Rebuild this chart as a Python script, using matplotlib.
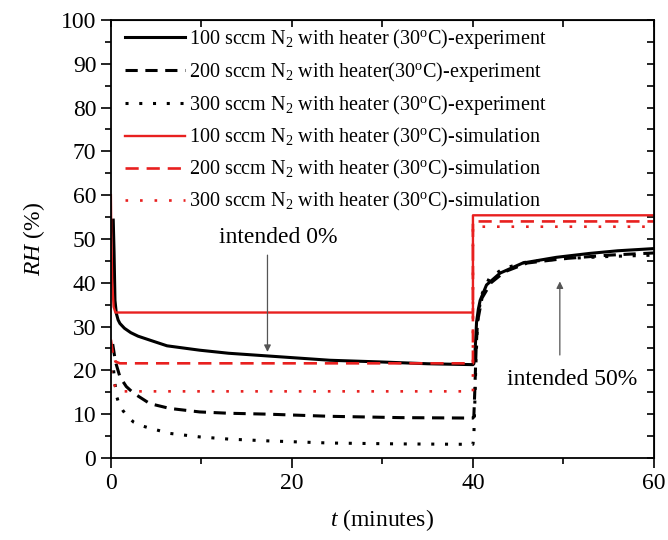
import numpy as np
import matplotlib.pyplot as plt
from matplotlib.ticker import MultipleLocator

plt.rcParams['font.family'] = ['Liberation Serif', 'DejaVu Serif']
plt.rcParams['mathtext.fontset'] = 'custom'
plt.rcParams['mathtext.rm'] = 'Liberation Serif'
plt.rcParams['mathtext.it'] = 'Liberation Serif:italic'

# experiment curves (t in minutes, RH in %)
t_exp100 = [0.26, 0.35, 0.45, 0.6, 0.8, 1.0, 1.5, 2.2, 3.0, 4.3, 6.2, 9.8, 13.0, 17.2, 24.2, 30.0, 35.0, 40.0,
            40.1, 40.2, 40.3, 40.4, 40.6, 40.8, 41.5, 43.0, 45.5, 49.2, 52.9, 56.0, 60.0]
rh_exp100 = [54.3, 47.0, 36.0, 33.0, 31.5, 30.7, 29.6, 28.6, 27.8, 26.9, 25.6, 24.6, 23.9, 23.3, 22.3, 21.9, 21.5, 21.3,
             21.5, 23.0, 27.0, 31.0, 34.0, 36.0, 39.5, 42.2, 44.5, 45.8, 46.7, 47.3, 47.8]

t_exp200 = [0.2, 0.5, 1.0, 1.7, 2.5, 4.3, 6.5, 9.8, 13.0, 17.2, 24.2, 32.0, 40.0,
            40.1, 40.2, 40.35, 40.5, 41.0, 42.0, 43.5, 46.0, 50.0, 55.0, 60.0]
rh_exp200 = [26.0, 22.0, 18.5, 16.3, 14.8, 12.4, 11.3, 10.5, 10.2, 10.0, 9.5, 9.2, 9.1,
             9.5, 15.0, 25.0, 31.0, 36.5, 40.0, 42.5, 44.5, 45.5, 46.3, 46.8]

t_exp300 = [0.3, 0.45, 0.6, 0.9, 1.3, 1.8, 2.5, 3.3, 4.3, 6.5, 9.8, 13.0, 17.2, 24.2, 32.0, 40.0,
            40.1, 40.2, 40.3, 40.5, 40.9, 41.8, 43.3, 46.0, 50.0, 55.0, 60.0]
rh_exp300 = [20.0, 17.0, 14.3, 12.3, 10.9, 9.5, 8.2, 7.4, 6.8, 5.6, 4.8, 4.3, 3.9, 3.4, 3.2, 3.1,
             5.0, 12.0, 20.0, 31.0, 37.0, 41.0, 43.2, 44.8, 45.5, 46.0, 46.3]

# simulation curves
t_sim100 = [0.0, 0.05, 0.15, 0.3, 0.5, 40.0, 40.0, 60.0]
rh_sim100 = [60.0, 50.0, 40.0, 34.5, 33.2, 33.2, 55.4, 55.4]

t_sim200 = [0.0, 0.2, 0.5, 1.0, 40.0, 40.0, 60.0]
rh_sim200 = [27.0, 24.0, 22.0, 21.6, 21.6, 54.0, 54.0]

t_sim300 = [0.0, 0.3, 0.8, 40.0, 40.0, 60.0]
rh_sim300 = [20.0, 17.0, 15.2, 15.2, 52.8, 52.8]

labels = [r'100 sccm N$_2$ with heater (30$^{\rm o}$C)-experiment',
          r'200 sccm N$_2$ with heater(30$^{\rm o}$C)-experiment',
          r'300 sccm N$_2$ with heater (30$^{\rm o}$C)-experiment',
          r'100 sccm N$_2$ with heater (30$^{\rm o}$C)-simulation',
          r'200 sccm N$_2$ with heater (30$^{\rm o}$C)-simulation',
          r'300 sccm N$_2$ with heater (30$^{\rm o}$C)-simulation']

fz = 17
red = '#e8201f'

fig = plt.figure(figsize=(6.68, 5.4), dpi=100)
ax = fig.add_axes([0.166, 0.152, 0.813, 0.811])

ax.plot(t_exp100, rh_exp100, color='k', lw=2.2, linestyle='-', label=labels[0])
ax.plot(t_exp200, rh_exp200, color='k', lw=2.2, linestyle=(0, (4, 2.5)), label=labels[1])
ax.plot(t_exp300, rh_exp300, color='k', lw=2.2, linestyle=(0, (1, 3.5)), label=labels[2])
ax.plot(t_sim100, rh_sim100, color=red, lw=1.7, linestyle='-', label=labels[3])
ax.plot(t_sim200, rh_sim200, color=red, lw=1.9, linestyle=(0, (5, 3)), label=labels[4])
ax.plot(t_sim300, rh_sim300, color=red, lw=1.9, linestyle=(0, (1, 4.5)), label=labels[5])

arrow = dict(arrowstyle='-|>', color='#555555', lw=0.9, shrinkA=0, shrinkB=0, mutation_scale=10)
ax.annotate('', xy=(17.3, 24.2), xytext=(17.3, 46.3), arrowprops=arrow)
ax.text(18.5, 50.3, 'intended 0%', ha='center', va='center', fontsize=fz)
ax.annotate('', xy=(49.6, 40.3), xytext=(49.6, 23.5), arrowprops=arrow)
ax.text(51.0, 18.0, 'intended 50%', ha='center', va='center', fontsize=fz)

ax.set_xlim(0, 60)
ax.set_ylim(0, 100)
ax.xaxis.set_major_locator(MultipleLocator(20))
ax.xaxis.set_minor_locator(MultipleLocator(10))
ax.yaxis.set_major_locator(MultipleLocator(10))
ax.yaxis.set_minor_locator(MultipleLocator(5))
ax.tick_params(which='major', direction='out', length=7, width=1.2, labelsize=fz)
ax.tick_params(which='minor', direction='out', length=4, width=1.2)
for s in ax.spines.values():
    s.set_linewidth(1.3)

top = ax.secondary_xaxis('top')
top.xaxis.set_major_locator(MultipleLocator(10))
top.tick_params(direction='in', length=5, width=1.2, labeltop=False)
right = ax.secondary_yaxis('right')
right.yaxis.set_major_locator(MultipleLocator(5))
right.tick_params(direction='in', length=5, width=1.2, labelright=False)

ax.set_xlabel(r'$\it{t}$ (minutes)', fontsize=fz, labelpad=10)
ax.set_ylabel(r'$\it{RH}$ (%)', fontsize=fz, labelpad=10)

ax.legend(loc='upper left', bbox_to_anchor=(0, 1.016), frameon=False, fontsize=14.5,
          handlelength=3.0, handletextpad=0.2, labelspacing=0.45, borderaxespad=0.3)

plt.savefig('out.png')
